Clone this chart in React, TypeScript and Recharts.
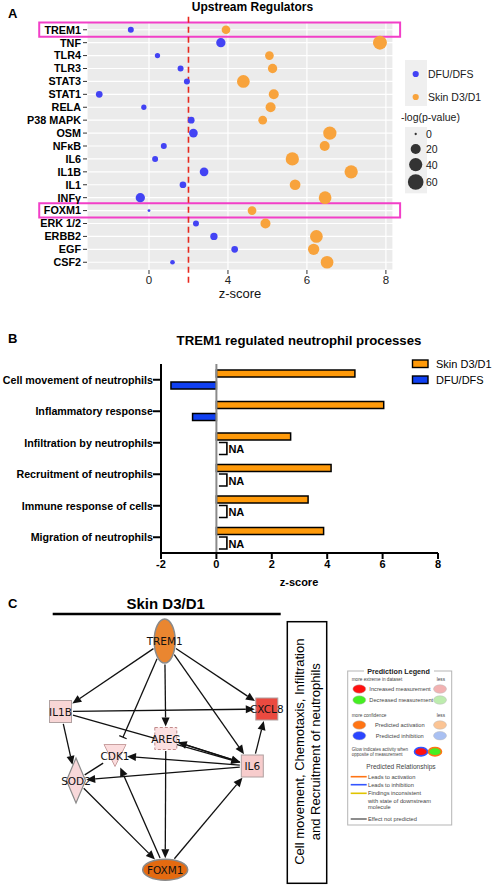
import React from 'react';
import {
  ScatterChart, Scatter, BarChart, Bar, XAxis, YAxis, CartesianGrid,
  ReferenceLine, ReferenceArea, Legend,
} from 'recharts';

// ---- Panel A: upstream regulators (IPA z-score, -log p) ----
const regulators = ['TREM1', 'TNF', 'TLR4', 'TLR3', 'STAT3', 'STAT1', 'RELA', 'P38 MAPK', 'OSM', 'NFκB', 'IL6', 'IL1B', 'IL1', 'INFγ', 'FOXM1', 'ERK 1/2', 'ERBB2', 'EGF', 'CSF2'];
const dfuZ = [-0.92, 3.64, 0.43, 1.6, 1.92, -2.52, -0.26, 2.14, 2.25, 0.75, 0.31, 2.79, 1.72, -0.44, 0, 2.38, 3.29, 4.17, 1.19];
const dfuLogP = [4.6, 16.6, 3, 4.6, 4.6, 6.5, 3, 6.5, 13.8, 4.6, 4.6, 13.8, 6.5, 16.6, 0.1, 4.6, 8.5, 6.5, 1.9];
const skinZ = [3.9, 7.85, 5.05, 5.13, 4.39, 5.16, 5.08, 4.88, 6.58, 6.45, 5.63, 7.12, 5.7, 6.46, 4.61, 4.95, 6.24, 6.17, 6.51];
const skinLogP = [13.8, 46, 13.8, 16.6, 36.6, 20, 20, 13.8, 41, 20, 41, 41, 24, 36.6, 13.8, 20, 36.6, 27.4, 36.6];
const zTicks = [0, 4, 6, 8];
const zMinorTicks = [-2, 2, 5, 7];
const zThreshold = 2;
const highlighted = ['TREM1', 'FOXM1'];
const logPLegend = [0, 20, 40, 60];

// ---- Panel B: TREM1 regulated neutrophil processes ----
const processes = ['Cell movement of neutrophils', 'Inflammatory response', 'Infiltration by neutrophils', 'Recruitment of neutrophils', 'Immune response of cells', 'Migration of neutrophils'];
const skinProcess = [5.0, 6.04, 2.68, 4.14, 3.31, 3.87];
const dfuProcess: (number | null)[] = [-1.64, -0.86, null, null, null, null];
const processTicks = [-2, 0, 2, 4, 6, 8];
const processSeries = ['Skin D3/D1', 'DFU/DFS'];

// ---- Panel C: Skin D3/D1 network (layout units) ----
const genes = ['TREM1', 'IL1B', 'CXCL8', 'AREG', 'CDK1', 'IL6', 'SOD2', 'FOXM1'];
const layoutX = [164.7, 60.5, 266.8, 165.8, 115, 252.3, 76, 165.2];
const layoutY = [55, 125.5, 123, 152.5, 169.5, 180, 194.5, 283.7];
const relations: [string, string, string][] = [
  ['TREM1', 'IL1B', 'activates'],
  ['TREM1', 'CDK1', 'inhibits'],
  ['TREM1', 'AREG', 'activates'],
  ['TREM1', 'IL6', 'activates'],
  ['TREM1', 'CXCL8', 'activates'],
  ['IL1B', 'CXCL8', 'activates'],
  ['IL1B', 'IL6', 'activates'],
  ['IL1B', 'SOD2', 'activates'],
  ['AREG', 'IL6', 'activates'],
  ['IL6', 'AREG', 'activates'],
  ['IL6', 'CDK1', 'activates'],
  ['IL6', 'SOD2', 'activates'],
  ['IL6', 'CXCL8', 'activates'],
  ['SOD2', 'CDK1', 'binds'],
  ['SOD2', 'FOXM1', 'activates'],
  ['FOXM1', 'CDK1', 'activates'],
  ['AREG', 'FOXM1', 'activates'],
  ['FOXM1', 'IL6', 'activates'],
];

const FONT = '"Liberation Sans", Arial, sans-serif';
const BLUE = '#4343f4';
const ORANGE = '#f8a33c';

// the published axis is broken: 0..4 is squeezed into the space of 4..8's half
const axisPos = (z: number) => (z <= 4 ? z / 2 : z - 2);
const dotRadius = (logp: number) => (2.3 + 1.72 * Math.sqrt(logp)) / 2;

const dfuPoints = regulators.map((name, i) => ({ name, row: i, pos: axisPos(dfuZ[i]), logp: dfuLogP[i] }));
const skinPoints = regulators.map((name, i) => ({ name, row: i, pos: axisPos(skinZ[i]), logp: skinLogP[i] }));
const processRows = processes.map((name, i) => ({ name, skin: skinProcess[i], dfu: dfuProcess[i] }));
const nodes = genes.map((name, i) => ({ name, x: layoutX[i], y: layoutY[i] }));

const dotShape = (fill: string) => (props: any) => (
  <circle cx={props.cx} cy={props.cy} r={dotRadius(props.payload.logp)} fill={fill} />
);

function regulatorLegend() {
  let acc = 71.5;
  const keys = logPLegend.map((v) => {
    const r = dotRadius(v);
    const h = Math.max(15, 2 * r + 3);
    const cy = acc + h / 2;
    acc += h;
    return { v, r, cy };
  });
  return (
    <svg width={99} height={145} style={{ display: 'block', overflow: 'visible', fontFamily: FONT }}>
      <rect x={10} y={5} width={22} height={46} fill="#efefef" />
      <circle cx={20.7} cy={19} r={3.1} fill={BLUE} />
      <circle cx={20.7} cy={42} r={3.1} fill={ORANGE} />
      <text x={33} y={19} dominantBaseline="central" fontSize={10.5} fill="#1a1a1a">DFU/DFS</text>
      <text x={33} y={42} dominantBaseline="central" fontSize={10.5} fill="#1a1a1a">Skin D3/D1</text>
      <text x={6} y={62} dominantBaseline="central" fontSize={10.5} fill="#1a1a1a">-log(p-value)</text>
      <rect x={10} y={72} width={22} height={acc - 70} fill="#efefef" />
      {keys.map((k) => (
        <g key={k.v}>
          <circle cx={20.7} cy={k.cy} r={k.r} fill="#333" />
          <text x={31} y={k.cy} dominantBaseline="central" fontSize={10.5} fill="#1a1a1a">{k.v}</text>
        </g>
      ))}
    </svg>
  );
}

function RegulatorChart() {
  const tickPos = zTicks.map(axisPos);
  return (
    <ScatterChart width={494} height={300} margin={{ top: 22, right: 101, bottom: 0, left: 0 }}>
      <CartesianGrid
        fill="#ebebeb" stroke="#ffffff" strokeWidth={0.6} horizontal={false}
        verticalCoordinatesGenerator={({ xAxis }: any) =>
          xAxis && typeof xAxis.scale === 'function' ? zMinorTicks.map((z) => xAxis.scale(axisPos(z))) : []}
      />
      <CartesianGrid stroke="#ffffff" strokeWidth={1.2} fill="none" />
      <XAxis
        type="number" dataKey="pos" domain={[-1.57, 6.18]} allowDataOverflow ticks={tickPos} interval={0}
        tickFormatter={(p: number) => String(zTicks[tickPos.indexOf(p)] ?? '')}
        axisLine={false} tickLine={{ stroke: '#333' }} tickSize={4} tickMargin={2} height={30}
        tick={{ fontSize: 11.5, fill: '#222', fontFamily: FONT }}
      />
      <YAxis
        type="number" dataKey="row" domain={[-0.6, 18.6]} reversed allowDataOverflow
        ticks={regulators.map((_, i) => i)} interval={0} tickFormatter={(i: number) => regulators[i] ?? ''}
        axisLine={false} tickLine={{ stroke: '#333' }} tickSize={4} tickMargin={2} width={87}
        tick={{ fontSize: 10.8, fontWeight: 700, fill: '#000', fontFamily: FONT }}
      />
      <Scatter name="DFU/DFS" data={dfuPoints} shape={dotShape(BLUE)} isAnimationActive={false} />
      <Scatter name="Skin D3/D1" data={skinPoints} shape={dotShape(ORANGE)} isAnimationActive={false} />
      <ReferenceLine
        segment={[{ x: axisPos(zThreshold), y: -1 }, { x: axisPos(zThreshold), y: 19.9 }]}
        ifOverflow="visible" stroke="#e8281e" strokeWidth={1.6} strokeDasharray="6 4"
      />
      {highlighted.map((name) => {
        const row = regulators.indexOf(name);
        return (
          <ReferenceArea
            key={name} x1={-2.78} x2={6.36} y1={row - 0.56} y2={row + 0.54} ifOverflow="visible"
            fill="none" fillOpacity={0} stroke="#f23fc8" strokeWidth={2}
          />
        );
      })}
      <Legend
        layout="vertical" align="center" verticalAlign="middle" content={regulatorLegend}
        wrapperStyle={{ left: 395, top: 55, width: 99 }}
      />
    </ScatterChart>
  );
}

const dfuBarShape = (props: any) => {
  const { x, y, width, height, payload, fill } = props;
  if (payload.dfu === null) {
    const bx = x + 2.5;
    const top = y - 2.5;
    const bottom = y + height + 2.5;
    return (
      <g>
        <path d={`M${bx},${top} H${bx + 8} V${bottom} H${bx}`} fill="none" stroke="#000" strokeWidth={1.6} />
        <text x={bx + 9.5} y={y + height / 2 + 0.5} dominantBaseline="central" fontSize={11} fontWeight={700} fontFamily={FONT} fill="#000">NA</text>
      </g>
    );
  }
  const rx = width < 0 ? x + width : x;
  return <rect x={rx} y={y} width={Math.abs(width)} height={height} fill={fill} stroke="#000" strokeWidth={1.5} />;
};

// plain one-line category labels (no wrapping)
const processTick = (props: any) => (
  <text x={props.x} y={props.y} textAnchor="end" dominantBaseline="central"
    fontSize={10.7} fontWeight={700} fontFamily={FONT} fill="#000">
    {props.payload.value}
  </text>
);

function processLegend(props: any) {
  const items = [...(props.payload || [])].sort(
    (a: any, b: any) => processSeries.indexOf(a.value) - processSeries.indexOf(b.value),
  );
  return (
    <svg width={90} height={32} style={{ display: 'block', overflow: 'visible', fontFamily: FONT }}>
      {items.map((it: any, i: number) => (
        <g key={it.value}>
          <rect x={2.5} y={4 + i * 16} width={15.5} height={7.5} fill={it.color} stroke="#000" strokeWidth={1.4} />
          <text x={26} y={8 + i * 16} dominantBaseline="central" fontSize={11} fill="#000">{it.value}</text>
        </g>
      ))}
    </svg>
  );
}

function ProcessChart() {
  return (
    <BarChart
      width={494} height={310} data={processRows} layout="vertical"
      margin={{ top: 74, right: 56, bottom: 17, left: 0 }} barSize={7} barGap={5}
    >
      <XAxis
        type="number" domain={[-2, 8]} ticks={processTicks} interval={0} height={30}
        axisLine={{ stroke: '#000', strokeWidth: 2 }} tickLine={{ stroke: '#000', strokeWidth: 2 }}
        tickSize={6} tickMargin={1} tick={{ fontSize: 11, fontWeight: 700, fill: '#000', fontFamily: FONT }}
      />
      <YAxis
        type="category" dataKey="name" width={161} interval={0}
        axisLine={{ stroke: '#000', strokeWidth: 2 }} tickLine={{ stroke: '#000', strokeWidth: 2 }}
        tickSize={8} tickMargin={0} tick={processTick}
      />
      <ReferenceLine x={0} stroke="#8a8a8a" strokeWidth={2} />
      <Bar dataKey="skin" name={processSeries[0]} fill="#ff9a0a" stroke="#000" strokeWidth={1.5} isAnimationActive={false} />
      <Bar
        dataKey={(d: any) => d.dfu ?? 0} name={processSeries[1]} fill="#1040f2"
        shape={dfuBarShape} isAnimationActive={false}
      />
      <Legend
        layout="vertical" align="center" verticalAlign="middle" content={processLegend}
        wrapperStyle={{ left: 410, top: 66, width: 90 }}
      />
    </BarChart>
  );
}

// node look (IPA style)
const nodeStyle: Record<string, { kind: string; hw: number; hh: number; fill: string; dashed?: boolean }> = {
  TREM1: { kind: 'ellipse', hw: 10.5, hh: 22, fill: '#ea8630' },
  FOXM1: { kind: 'ellipse', hw: 22.5, hh: 10.5, fill: '#e46a10' },
  IL1B: { kind: 'rect', hw: 11, hh: 11, fill: '#f8d6d6' },
  CXCL8: { kind: 'rect', hw: 11, hh: 11, fill: '#eb4a40' },
  AREG: { kind: 'rect', hw: 11, hh: 11, fill: '#fbe0e1', dashed: true },
  CDK1: { kind: 'triangle', hw: 11, hh: 11, fill: '#fbdcdd' },
  IL6: { kind: 'rect', hw: 11, hh: 11, fill: '#f7cccc' },
  SOD2: { kind: 'diamond', hw: 9.5, hh: 22.5, fill: '#f8d8da' },
};

function boundary(name: string, ux: number, uy: number) {
  const s = nodeStyle[name];
  const ax = Math.abs(ux);
  const ay = Math.abs(uy);
  if (s.kind === 'ellipse') return 1 / Math.sqrt((ax / s.hw) ** 2 + (ay / s.hh) ** 2);
  if (s.kind === 'diamond') return 1 / (ax / s.hw + ay / s.hh);
  return Math.min(ax ? s.hw / ax : Infinity, ay ? s.hh / ay : Infinity);
}

const edgeShape = (from: string, to: string, kind: string) => (props: any) => {
  const { x1, y1, x2, y2 } = props;
  const len = Math.hypot(x2 - x1, y2 - y1) || 1;
  const ux = (x2 - x1) / len;
  const uy = (y2 - y1) / len;
  const s0 = boundary(from, ux, uy) + 1.5;
  const s1 = boundary(to, ux, uy) + (kind === 'inhibits' ? 8 : 1);
  const sx = x1 + ux * s0;
  const sy = y1 + uy * s0;
  const ex = x2 - ux * s1;
  const ey = y2 - uy * s1;
  const ink = '#111';
  if (kind === 'activates') {
    const head = 9;
    const half = 4;
    const bx = ex - ux * head;
    const by = ey - uy * head;
    return (
      <g>
        <line x1={sx} y1={sy} x2={bx} y2={by} stroke={ink} strokeWidth={1.3} />
        <polygon points={`${ex},${ey} ${bx - uy * half},${by + ux * half} ${bx + uy * half},${by - ux * half}`} fill={ink} />
      </g>
    );
  }
  if (kind === 'inhibits') {
    return (
      <g>
        <line x1={sx} y1={sy} x2={ex} y2={ey} stroke={ink} strokeWidth={1.3} />
        <line x1={ex - uy * 4} y1={ey + ux * 4} x2={ex + uy * 4} y2={ey - ux * 4} stroke={ink} strokeWidth={1.3} />
      </g>
    );
  }
  return <line x1={sx} y1={sy} x2={ex} y2={ey} stroke={ink} strokeWidth={1.3} />;
};

const nodeShape = (props: any) => {
  const { cx, cy, payload } = props;
  const s = nodeStyle[payload.name];
  const stroke = '#8a8a8a';
  let body;
  if (s.kind === 'ellipse') {
    body = <ellipse cx={cx} cy={cy} rx={s.hw} ry={s.hh} fill={s.fill} stroke={stroke} strokeWidth={1.5} />;
  } else if (s.kind === 'diamond') {
    body = <polygon points={`${cx},${cy - s.hh} ${cx + s.hw},${cy} ${cx},${cy + s.hh} ${cx - s.hw},${cy}`} fill={s.fill} stroke={stroke} strokeWidth={1.2} />;
  } else if (s.kind === 'triangle') {
    body = <polygon points={`${cx - s.hw},${cy - s.hh} ${cx + s.hw},${cy - s.hh} ${cx},${cy + s.hh}`} fill={s.fill} stroke="#c9a0a0" strokeWidth={1} />;
  } else {
    body = (
      <rect x={cx - s.hw} y={cy - s.hh} width={s.hw * 2} height={s.hh * 2} fill={s.fill}
        stroke={s.dashed ? '#c08a8a' : '#b0a0a0'} strokeWidth={1} strokeDasharray={s.dashed ? '3 2' : undefined} />
    );
  }
  return (
    <g>
      {body}
      <text x={cx} y={cy} textAnchor="middle" dominantBaseline="central" fontSize={10.5} fontFamily='"DejaVu Sans", Verdana, sans-serif' fill="#111">
        {payload.name}
      </text>
    </g>
  );
};

function NetworkChart() {
  const at = (name: string) => nodes[genes.indexOf(name)];
  return (
    <ScatterChart width={494} height={300} margin={{ top: 0, right: 0, bottom: 0, left: 0 }}>
      <XAxis type="number" dataKey="x" domain={[0, 494]} hide />
      <YAxis type="number" dataKey="y" domain={[0, 300]} reversed hide />
      {relations.map(([from, to, kind], i) => (
        <ReferenceLine
          key={i} ifOverflow="visible"
          segment={[{ x: at(from).x, y: at(from).y }, { x: at(to).x, y: at(to).y }]}
          shape={edgeShape(from, to, kind)}
        />
      ))}
      <Scatter data={nodes} shape={nodeShape} isAnimationActive={false} />
    </ScatterChart>
  );
}

function PredictionLegend() {
  const small = { fontFamily: FONT, fill: '#444' } as const;
  const oval = (cx: number, cy: number, fill: string, ring?: string) => (
    <ellipse cx={cx} cy={cy} rx={6.5} ry={4.2} fill={fill} stroke={ring ?? '#bbb'} strokeWidth={ring ? 1.6 : 0.5} />
  );
  const rel = (y: number, color: string, label: string) => (
    <g>
      <line x1={350.7} y1={y} x2={366.7} y2={y} stroke={color} strokeWidth={1.6} />
      <text x={368} y={y} dominantBaseline="central" fontSize={5.7} {...small}>{label}</text>
    </g>
  );
  return (
    <g>
      <rect x={347.7} y={671} width={104} height={154} fill="#fff" stroke="#b5b5b5" strokeWidth={1} />
      <rect x={364} y={667} width={70} height={8} fill="#fff" />
      <text x={398.5} y={671} textAnchor="middle" dominantBaseline="central" fontSize={7.2} fontWeight={700} fontFamily={FONT} fill="#222">Prediction Legend</text>
      <text x={351.7} y={679} dominantBaseline="central" fontSize={4.7} {...small}>more extreme in dataset</text>
      <text x={436.7} y={679} dominantBaseline="central" fontSize={4.7} {...small}>less</text>
      {oval(359.3, 689, '#ff1010')}
      <text x={369.3} y={689} dominantBaseline="central" fontSize={5.7} {...small}>Increased measurement</text>
      {oval(440, 689, '#f2b2b2')}
      {oval(359.3, 700, '#45ee22')}
      <text x={369.3} y={700} dominantBaseline="central" fontSize={5.7} {...small}>Decreased measurement</text>
      {oval(440, 700, '#bdecae')}
      <text x={351.7} y={715} dominantBaseline="central" fontSize={4.7} {...small}>more confidence</text>
      <text x={436.7} y={715} dominantBaseline="central" fontSize={4.7} {...small}>less</text>
      {oval(359.3, 725, '#ff7414')}
      <text x={375} y={725} dominantBaseline="central" fontSize={5.7} {...small}>Predicted activation</text>
      {oval(440, 725, '#fbc494')}
      {oval(359.3, 735.7, '#2a45ff')}
      <text x={375.7} y={735.7} dominantBaseline="central" fontSize={5.7} {...small}>Predicted inhibition</text>
      {oval(440, 735.7, '#a9c0f2')}
      <text x={351.7} y={749} dominantBaseline="central" fontSize={4.5} {...small}>Glow indicates activity when</text>
      <text x={351.7} y={754.3} dominantBaseline="central" fontSize={4.5} {...small}>opposite of measurement</text>
      {oval(421, 751.7, '#ff1010', '#3355ff')}
      {oval(435, 751.7, '#45ee22', '#ff7414')}
      <text x={401} y={766.7} textAnchor="middle" dominantBaseline="central" fontSize={6.6} {...small}>Predicted Relationships</text>
      {rel(776.7, '#ff7414', 'Leads to activation')}
      {rel(784.7, '#3355ff', 'Leads to inhibition')}
      {rel(793.3, '#e0c400', 'Findings inconsistent')}
      <text x={368} y={800.7} dominantBaseline="central" fontSize={5.7} {...small}>with state of downstream</text>
      <text x={368} y={807.3} dominantBaseline="central" fontSize={5.7} {...small}>molecule</text>
      {rel(819, '#707070', 'Effect not predicted')}
    </g>
  );
}

export default function App() {
  return (
    <div style={{ position: 'absolute', left: 0, top: 0, width: 494, height: 886, background: '#fff', fontFamily: FONT, overflow: 'hidden' }}>
      <div style={{ position: 'absolute', left: 0, top: 0 }}><RegulatorChart /></div>
      <div style={{ position: 'absolute', left: 0, top: 290 }}><ProcessChart /></div>
      <div style={{ position: 'absolute', left: 0, top: 586 }}><NetworkChart /></div>
      <svg width={494} height={886} style={{ position: 'absolute', left: 0, top: 0, pointerEvents: 'none', fontFamily: FONT }}>
        <text x={8} y={17.5} fontSize={13} fontWeight={700}>A</text>
        <text x={252.5} y={11.3} textAnchor="middle" fontSize={12} fontWeight={700}>Upstream Regulators</text>
        <text x={240} y={298} textAnchor="middle" fontSize={13} fill="#111">z-score</text>

        <text x={8} y={343.3} fontSize={13} fontWeight={700}>B</text>
        <text x={299} y={344.5} textAnchor="middle" fontSize={13.2} fontWeight={700}>TREM1 regulated neutrophil processes</text>
        <text x={299} y={586} textAnchor="middle" fontSize={11} fontWeight={700}>z-score</text>

        <text x={8} y={608.3} fontSize={13} fontWeight={700}>C</text>
        <text x={165.7} y={609.3} textAnchor="middle" fontSize={15} fontWeight={700}>Skin D3/D1</text>
        <line x1={52.7} y1={614} x2={280.7} y2={614} stroke="#000" strokeWidth={2.5} />
        <rect x={287.3} y={621.7} width={39.4} height={261.6} fill="none" stroke="#000" strokeWidth={1.5} />
        <text transform="translate(299.5 751.7) rotate(-90)" textAnchor="middle" dominantBaseline="central" fontSize={13}>
          Cell movement, Chemotaxis, Infiltration
        </text>
        <text transform="translate(315.5 751.7) rotate(-90)" textAnchor="middle" dominantBaseline="central" fontSize={13}>
          and Recruitment of neutrophils
        </text>
        <PredictionLegend />
      </svg>
    </div>
  );
}
